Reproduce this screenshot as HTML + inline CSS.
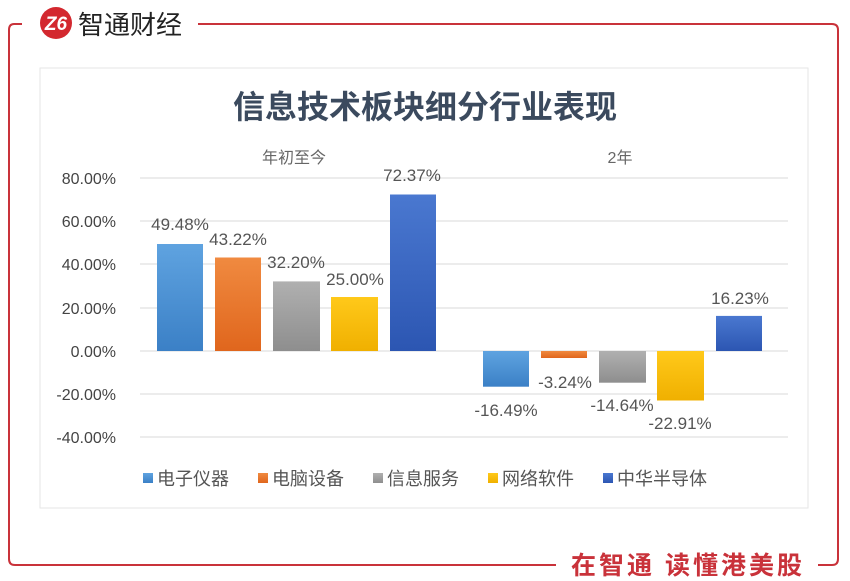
<!DOCTYPE html>
<html><head><meta charset="utf-8"><style>
html,body{margin:0;padding:0;background:#fff;}
svg{display:block;font-family:"Liberation Sans","Noto Sans CJK SC",sans-serif;}
</style></head><body>
<svg width="850" height="581" viewBox="0 0 850 581" xmlns="http://www.w3.org/2000/svg">
<defs>
<linearGradient id="gb" x1="0" y1="0" x2="0" y2="1"><stop offset="0" stop-color="#5fa3e0"/><stop offset="1" stop-color="#3b80c6"/></linearGradient>
<linearGradient id="go" x1="0" y1="0" x2="0" y2="1"><stop offset="0" stop-color="#f08a40"/><stop offset="1" stop-color="#e0661d"/></linearGradient>
<linearGradient id="gg" x1="0" y1="0" x2="0" y2="1"><stop offset="0" stop-color="#b0b0b0"/><stop offset="1" stop-color="#8e8e8e"/></linearGradient>
<linearGradient id="gy" x1="0" y1="0" x2="0" y2="1"><stop offset="0" stop-color="#ffc91a"/><stop offset="1" stop-color="#f0b000"/></linearGradient>
<linearGradient id="gd" x1="0" y1="0" x2="0" y2="1"><stop offset="0" stop-color="#4a78d0"/><stop offset="1" stop-color="#2c56b2"/></linearGradient>
</defs>
<g fill="none" stroke="#c9323a" stroke-width="2">
<path d="M22 24 H14 Q9 24 9 30 V559 Q9 565 15 565 H556"/>
<path d="M198 24 H832 Q838 24 838 30 V559 Q838 565 832 565 H818"/>
</g>
<circle cx="56" cy="23" r="16" fill="#d3282f"/>
<text x="56" y="30" font-size="19" font-weight="bold" fill="#fff" text-anchor="middle" font-style="italic">Z6</text>
<text x="78" y="34" font-size="26" fill="#222">智通财经</text>
<text x="571" y="574" font-size="25" font-weight="bold" fill="#c9323a" letter-spacing="3">在智通 读懂港美股</text>
<rect x="40" y="68" width="768" height="440" fill="#fff" stroke="#e6e6e6"/>
<text x="425" y="118" font-size="32" font-weight="bold" fill="#3b4a5e" text-anchor="middle">信息技术板块细分行业表现</text>
<text x="294" y="163" font-size="16" fill="#666" text-anchor="middle">年初至今</text>
<text x="620" y="163" font-size="16" fill="#666" text-anchor="middle">2年</text>
<g stroke="#d9d9d9" stroke-width="1">
<line x1="140" x2="788" y1="178" y2="178"/><line x1="140" x2="788" y1="221" y2="221"/>
<line x1="140" x2="788" y1="264" y2="264"/><line x1="140" x2="788" y1="308" y2="308"/>
<line x1="140" x2="788" y1="351" y2="351"/><line x1="140" x2="788" y1="394" y2="394"/>
<line x1="140" x2="788" y1="437" y2="437"/>
</g>
<g font-size="16" fill="#444" text-anchor="end">
<text x="116" y="184">80.00%</text><text x="116" y="227">60.00%</text>
<text x="116" y="270">40.00%</text><text x="116" y="314">20.00%</text>
<text x="116" y="357">0.00%</text><text x="116" y="400">-20.00%</text>
<text x="116" y="443">-40.00%</text>
</g>
<rect x="157" y="244" width="46" height="107" fill="url(#gb)"/>
<rect x="215" y="257.5" width="46" height="93.5" fill="url(#go)"/>
<rect x="273" y="281.4" width="47" height="69.6" fill="url(#gg)"/>
<rect x="331" y="297" width="47" height="54" fill="url(#gy)"/>
<rect x="390" y="194.5" width="46" height="156.5" fill="url(#gd)"/>
<rect x="483" y="351" width="46" height="35.7" fill="url(#gb)"/>
<rect x="541" y="351" width="46" height="7" fill="url(#go)"/>
<rect x="599" y="351" width="47" height="31.7" fill="url(#gg)"/>
<rect x="657" y="351" width="47" height="49.5" fill="url(#gy)"/>
<rect x="716" y="315.9" width="46" height="35.1" fill="url(#gd)"/>
<g font-size="17" fill="#555" text-anchor="middle">
<text x="180" y="230">49.48%</text><text x="238" y="245">43.22%</text>
<text x="296" y="268">32.20%</text><text x="355" y="285">25.00%</text>
<text x="412" y="181">72.37%</text>
<text x="506" y="416">-16.49%</text><text x="565" y="388">-3.24%</text>
<text x="622" y="411">-14.64%</text><text x="680" y="429">-22.91%</text>
<text x="740" y="304">16.23%</text>
</g>
<g font-size="18" fill="#555">
<rect x="143" y="473" width="10" height="10" fill="url(#gb)"/><text x="157" y="485">电子仪器</text>
<rect x="258" y="473" width="10" height="10" fill="url(#go)"/><text x="272" y="485">电脑设备</text>
<rect x="373" y="473" width="10" height="10" fill="url(#gg)"/><text x="387" y="485">信息服务</text>
<rect x="488" y="473" width="10" height="10" fill="url(#gy)"/><text x="502" y="485">网络软件</text>
<rect x="603" y="473" width="10" height="10" fill="url(#gd)"/><text x="617" y="485">中华半导体</text>
</g>
</svg>
</body></html>
